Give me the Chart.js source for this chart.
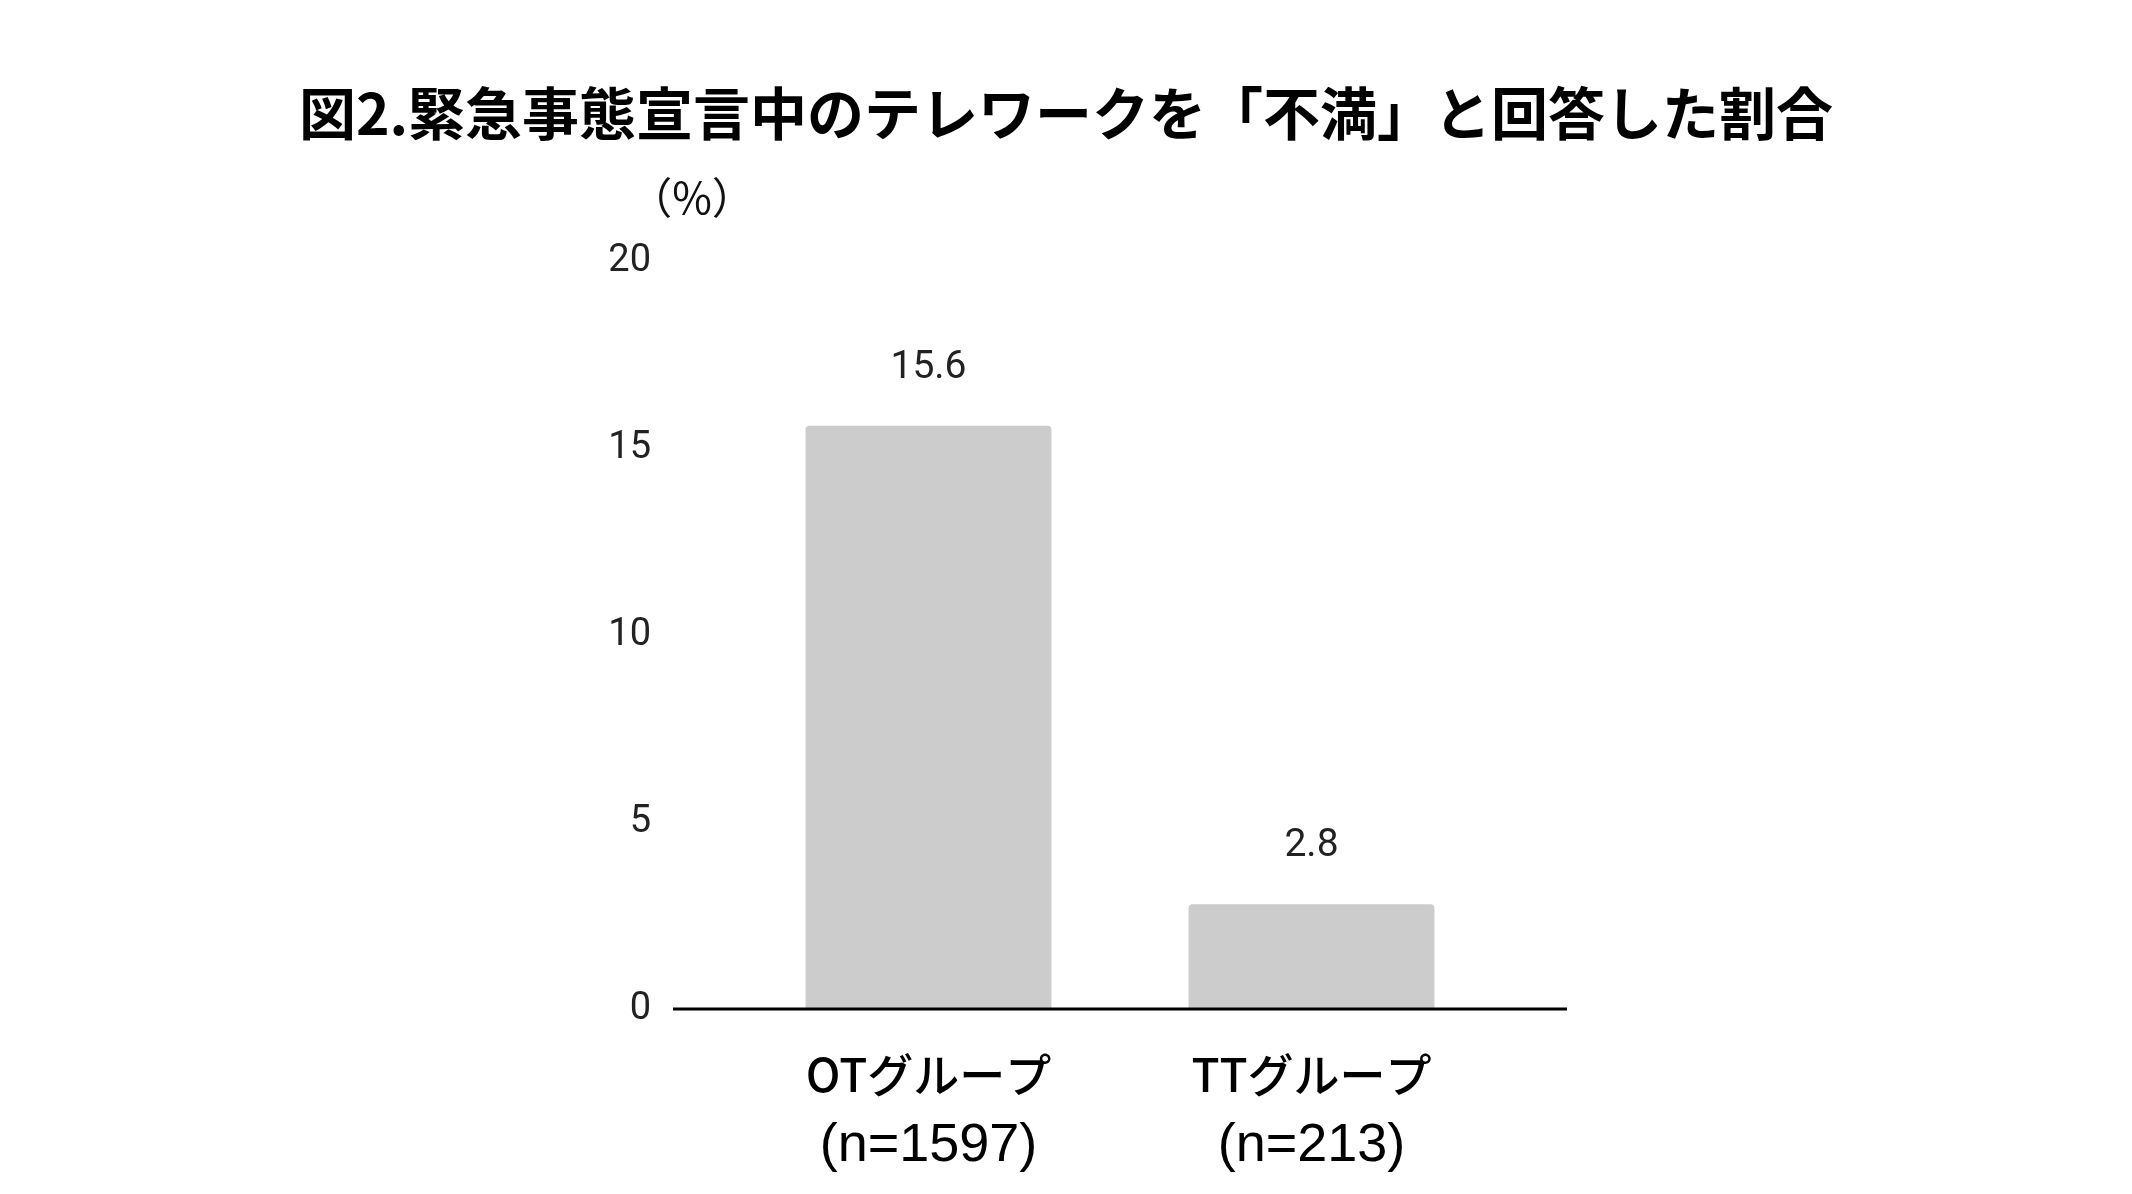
<!DOCTYPE html>
<html lang="ja">
<head>
<meta charset="utf-8">
<title>図2.緊急事態宣言中のテレワークを「不満」と回答した割合</title>
<script src="https://cdn.jsdelivr.net/npm/chart.js@4.4.1/dist/chart.umd.min.js"></script>
<style>
  html, body { margin: 0; padding: 0; background: #fff; }
  #wrap { width: 2132px; height: 1194px; }
</style>
</head>
<body>
<div id="wrap"><canvas id="chart" width="2132" height="1194"></canvas></div>
<script>
const titleText = '図2.緊急事態宣言中のテレワークを「不満」と回答した割合';
const groups = ['OTグループ', 'TTグループ'];
const sampleSizes = ['(n=1597)', '(n=213)'];
const dissatisfied = [15.6, 2.8];
const yTicks = [0, 5, 10, 15, 20];
const unitLabel = '（%）';

// baseline at 0, runs past the plot on both sides like the original
const baseline = {
    id: 'baseline',
    afterDatasetsDraw(chart) {
        const { ctx, chartArea, scales } = chart;
        const y = scales.y.getPixelForValue(0);
        ctx.save();
        ctx.strokeStyle = '#000';
        ctx.lineWidth = 3;
        ctx.beginPath();
        ctx.moveTo(chartArea.left - 64, y);
        ctx.lineTo(chartArea.right + 64, y);
        ctx.stroke();
        ctx.restore();
    }
};

const valueLabels = {
    id: 'valueLabels',
    afterDatasetsDraw(chart) {
        const { ctx } = chart;
        const meta = chart.getDatasetMeta(0);
        ctx.save();
        ctx.font = '39px Roboto';
        ctx.fillStyle = '#222';
        ctx.textAlign = 'center';
        ctx.textBaseline = 'middle';
        meta.data.forEach((bar, i) => {
            ctx.fillText(dissatisfied[i].toFixed(1), bar.x, bar.y - 58);
        });
        ctx.restore();
    }
};

const unitText = {
    id: 'unitText',
    afterDraw(chart) {
        const { ctx, chartArea } = chart;
        ctx.save();
        ctx.font = '43px "Noto Sans CJK JP"';
        ctx.fillStyle = '#111';
        ctx.textAlign = 'center';
        ctx.textBaseline = 'middle';
        ctx.fillText(unitLabel, chartArea.left - 45, chartArea.top - 64);
        ctx.restore();
    }
};

new Chart(document.getElementById('chart'), {
    type: 'bar',
    data: {
        labels: groups,
        datasets: [{
            data: dissatisfied,
            backgroundColor: '#cccccc',
            borderRadius: 4,
            borderSkipped: 'bottom',
            categoryPercentage: 1,
            barPercentage: 0.642
        }]
    },
    options: {
        responsive: false,
        animation: false,
        layout: { padding: 0 },
        plugins: {
            legend: { display: false },
            tooltip: { enabled: false },
            title: {
                display: true,
                text: titleText,
                color: '#000',
                font: { family: '"Noto Sans CJK JP"', size: 57, weight: 'bold' },
                padding: { top: 79, bottom: 114 }
            }
        },
        scales: {
            x: {
                offset: true,
                weight: 0,
                grid: { display: false },
                border: { display: false },
                ticks: {
                    color: '#000',
                    padding: 30,
                    maxRotation: 0,
                    font: { family: '"Noto Sans CJK JP"', size: 46, weight: 500 }
                },
                afterFit(scale) { scale.height = 95; }
            },
            x2: {
                type: 'category',
                position: 'bottom',
                labels: sampleSizes,
                offset: true,
                weight: 1,
                grid: { display: false },
                border: { display: false },
                ticks: {
                    color: '#000',
                    padding: 2,
                    maxRotation: 0,
                    font: { family: '"Liberation Sans"', size: 54 }
                },
                afterFit(scale) { scale.height = 90; }
            },
            y: {
                min: yTicks[0],
                max: yTicks[yTicks.length - 1],
                grid: { display: false },
                border: { display: false },
                ticks: {
                    stepSize: yTicks[1] - yTicks[0],
                    color: '#222',
                    padding: 78,
                    font: { family: 'Roboto', size: 38 }
                },
                afterFit(scale) { scale.width = 737; }
            },
            // empty right-hand axis, only reserves the white margin
            yRight: {
                position: 'right',
                grid: { display: false },
                border: { display: false },
                ticks: { display: false },
                afterFit(scale) { scale.width = 629; }
            }
        }
    },
    plugins: [baseline, valueLabels, unitText]
});
</script>
</body>
</html>
